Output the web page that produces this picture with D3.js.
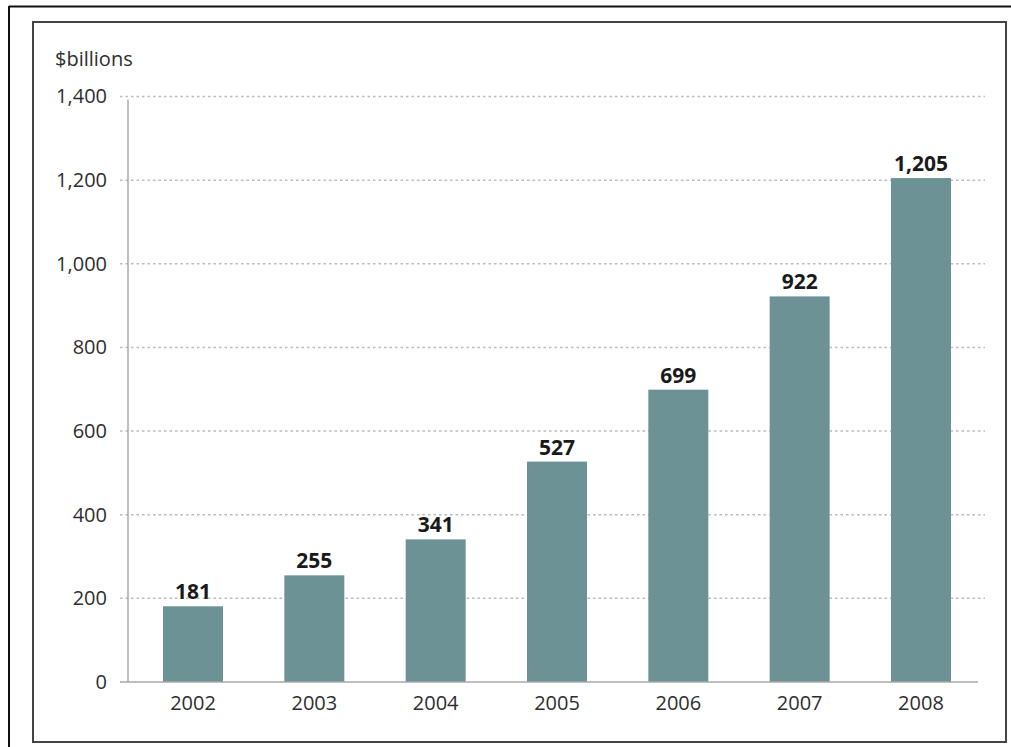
<!DOCTYPE html>
<html>
<head>
<meta charset="utf-8">
<script src="https://cdn.jsdelivr.net/npm/d3@7"></script>
<style>
  html, body { margin: 0; padding: 0; background: #fff; }
  svg { display: block; }
  text { font-family: "Open Sans", "DejaVu Sans", sans-serif; }
</style>
</head>
<body>
<svg id="chart" width="1011" height="747"></svg>
<script>
const years = ["2002", "2003", "2004", "2005", "2006", "2007", "2008"];
const values = [181, 255, 341, 527, 699, 922, 1205];
const yTicks = [0, 200, 400, 600, 800, 1000, 1200, 1400];
const unitLabel = "$billions";

const svg = d3.select("#chart");

// page frames (scanned document borders)
svg.append("line").attr("x1", 9).attr("y1", 6.5).attr("x2", 1011).attr("y2", 6.5)
  .attr("stroke", "#111").attr("stroke-width", 2);
svg.append("line").attr("x1", 9).attr("y1", 6).attr("x2", 9).attr("y2", 747)
  .attr("stroke", "#111").attr("stroke-width", 2);
svg.append("rect").attr("x", 33).attr("y", 22).attr("width", 973).attr("height", 720)
  .attr("fill", "none").attr("stroke", "#444").attr("stroke-width", 2);

const y = d3.scaleLinear().domain([0, 1400]).range([682, 96.5]);
const x = d3.scaleBand().domain(years).range([128, 986])
  .paddingInner(0.5055).paddingOuter(0.2885);

// gridlines
svg.append("g").selectAll("line")
  .data(yTicks.filter(d => d > 0))
  .join("line")
  .attr("x1", 120).attr("x2", 985)
  .attr("y1", d => y(d)).attr("y2", d => y(d))
  .attr("stroke", "#bbbbbb").attr("stroke-width", 1.5)
  .attr("stroke-dasharray", "2.5,3");

// y axis line
svg.append("line").attr("x1", 128).attr("x2", 128)
  .attr("y1", y(1400) + 3).attr("y2", y(0))
  .attr("stroke", "#a8a8a8").attr("stroke-width", 1.5);

// bars
svg.append("g").selectAll("rect")
  .data(values)
  .join("rect")
  .attr("x", (d, i) => x(years[i]))
  .attr("width", x.bandwidth())
  .attr("y", d => y(d))
  .attr("height", d => y(0) - y(d))
  .attr("fill", "#6d9296");

// x axis line
svg.append("line").attr("x1", 120).attr("x2", 978)
  .attr("y1", y(0)).attr("y2", y(0))
  .attr("stroke", "#a8a8a8").attr("stroke-width", 1.5);

// y axis labels
const yAxis = svg.append("g").attr("transform", "translate(128,0)")
  .call(d3.axisLeft(y).tickValues(yTicks).tickSize(0).tickPadding(21).tickFormat(d3.format(",")));
yAxis.select(".domain").remove();
yAxis.selectAll("text").attr("font-size", 20).attr("fill", "#2e2e2e")
  .style("font-family", '"Open Sans", sans-serif');

// x axis labels
const xAxis = svg.append("g").attr("transform", `translate(0,${y(0)})`)
  .call(d3.axisBottom(x).tickSize(0).tickPadding(14));
xAxis.select(".domain").remove();
xAxis.selectAll("text").attr("font-size", 20).attr("fill", "#2e2e2e")
  .style("font-family", '"Open Sans", sans-serif');

// value labels
svg.append("g").selectAll("text")
  .data(values)
  .join("text")
  .attr("x", (d, i) => x(years[i]) + x.bandwidth() / 2)
  .attr("y", d => y(d) - 7)
  .attr("text-anchor", "middle")
  .attr("font-size", 21).attr("font-weight", "bold").attr("fill", "#1a1a1a")
  .text(d => d3.format(",")(d));

// unit label
svg.append("text").attr("x", 55).attr("y", 66)
  .attr("font-size", 20).attr("fill", "#2e2e2e")
  .text(unitLabel);
</script>
</body>
</html>
